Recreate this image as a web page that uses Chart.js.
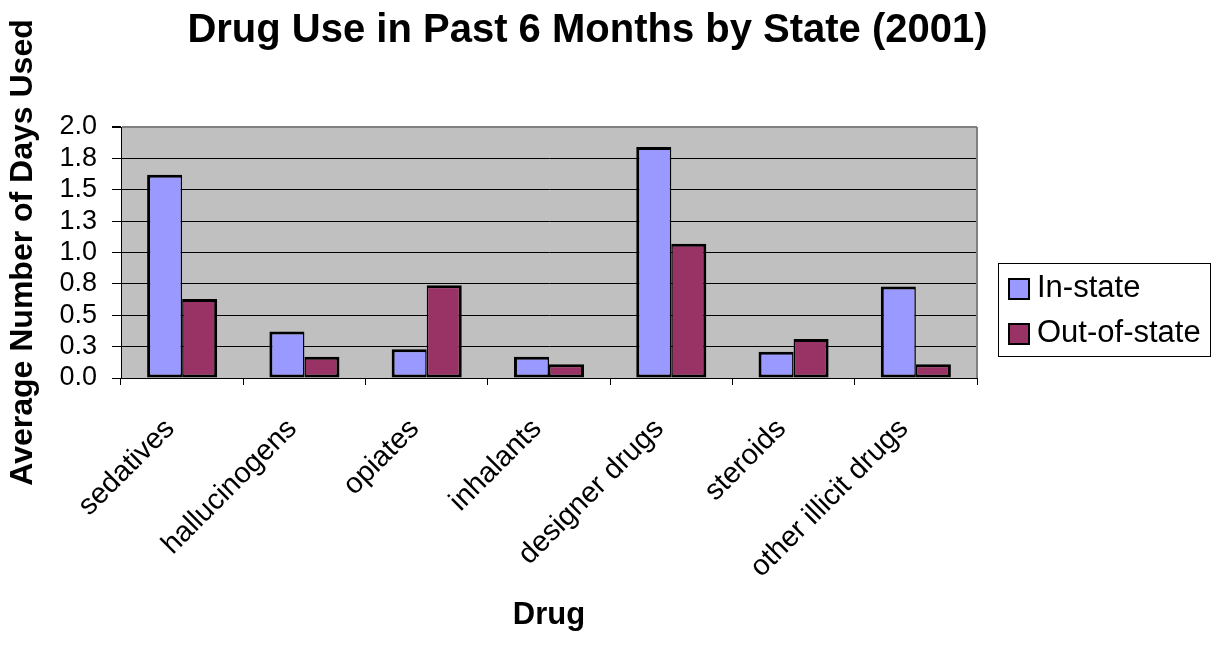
<!DOCTYPE html>
<html>
<head>
<meta charset="utf-8">
<script src="https://cdn.jsdelivr.net/npm/chart.js@4/dist/chart.umd.min.js"></script>
<style>
  html, body { margin: 0; padding: 0; background: #fff; }
  #wrap { width: 1217px; height: 645px; }
</style>
</head>
<body>
<div id="wrap"><canvas id="c" width="1217" height="645"></canvas></div>
<script>
// Survey results: average number of days each drug was used in the past 6 months
const categories = ['sedatives', 'hallucinogens', 'opiates', 'inhalants', 'designer drugs', 'steroids', 'other illicit drugs'];
const inState = [1.62, 0.37, 0.23, 0.17, 1.84, 0.21, 0.73];
const outOfState = [0.63, 0.17, 0.74, 0.11, 1.07, 0.31, 0.11];
const seriesNames = ['In-state', 'Out-of-state'];
const yTickLabels = ['0.0', '0.3', '0.5', '0.8', '1.0', '1.3', '1.5', '1.8', '2.0'];

const chartTitle = 'Drug Use in Past 6 Months by State (2001)';
const xTitle = 'Drug';
const yTitle = 'Average Number of Days Used';

const FONT = '"Liberation Sans", Arial, Helvetica, sans-serif';
const colors = ['#9999FF', '#993366'];

// Grey plot background and grey right-hand frame of the plot area
const plotFrame = {
  id: 'plotFrame',
  beforeDraw(chart) {
    const { ctx, chartArea: a } = chart;
    ctx.save();
    ctx.fillStyle = '#C0C0C0';
    ctx.fillRect(a.left, a.top, a.right - a.left, a.bottom - a.top);
    ctx.restore();
  },
  afterDatasetsDraw(chart) {
    const { ctx, chartArea: a } = chart;
    ctx.save();
    ctx.strokeStyle = '#808080';
    ctx.lineWidth = 2;
    ctx.beginPath();
    ctx.moveTo(Math.round(a.right), a.top);
    ctx.lineTo(Math.round(a.right), a.bottom);
    ctx.stroke();
    ctx.restore();
  }
};

// Chart heading and boxed legend on the right
const heading = {
  id: 'heading',
  afterDraw(chart) {
    const { ctx } = chart;
    ctx.save();
    ctx.fillStyle = '#000';
    ctx.font = 'bold 40px ' + FONT;
    ctx.textAlign = 'center';
    ctx.textBaseline = 'alphabetic';
    ctx.fillText(chartTitle, 587.5, 42);

    // legend box
    ctx.strokeStyle = '#000';
    ctx.lineWidth = 1;
    ctx.strokeRect(998.5, 263.5, 212, 93);
    ctx.font = '31px ' + FONT;
    ctx.textAlign = 'left';
    chart.data.datasets.forEach((ds, i) => {
      const y = 279 + i * 45;
      ctx.fillStyle = ds.backgroundColor;
      ctx.fillRect(1009, y, 20, 20);
      ctx.lineWidth = 2;
      ctx.strokeRect(1009, y, 20, 20);
      ctx.fillStyle = '#000';
      ctx.fillText(ds.label, 1037, y + 18);
    });
    ctx.restore();
  }
};

const barBorder = (side) => side === 0
  ? { top: 3, left: 3, bottom: 3, right: 1.5 }
  : { top: 3, left: 1.5, bottom: 3, right: 3 };

new Chart(document.getElementById('c'), {
  type: 'bar',
  data: {
    labels: categories,
    datasets: [
      { label: seriesNames[0], data: inState, backgroundColor: colors[0], borderColor: '#000', borderWidth: barBorder(0), borderSkipped: false },
      { label: seriesNames[1], data: outOfState, backgroundColor: colors[1], borderColor: '#000', borderWidth: barBorder(1), borderSkipped: false }
    ]
  },
  options: {
    responsive: false,
    animation: false,
    events: [],
    layout: { padding: { top: 127, right: 240, bottom: 0, left: 0 } },
    datasets: { bar: { categoryPercentage: 0.573, barPercentage: 1.0 } },
    plugins: { legend: { display: false }, title: { display: false }, tooltip: { enabled: false } },
    scales: {
      x: {
        afterFit(scale) { scale.height = 267; },
        grid: { display: true, drawOnChartArea: false, drawTicks: true, tickLength: 7, color: '#000', tickColor: '#000', offset: true },
        border: { display: true, color: '#000', width: 1 },
        ticks: {
          autoSkip: false, minRotation: 45, maxRotation: 45, padding: 27, labelOffset: -12,
          color: '#000', font: { family: FONT, size: 29 }
        },
        title: { display: true, text: xTitle, color: '#000', font: { family: FONT, size: 31, weight: 'bold' }, padding: { top: 0, bottom: 11 } }
      },
      y: {
        min: 0, max: 2,
        afterFit(scale) { scale.width = 121; },
        afterBuildTicks(scale) {
          scale.ticks = yTickLabels.map((_, i) => ({ value: i * 0.25 }));
        },
        grid: {
          color: (c) => (c.tick && c.tick.value === 2 ? '#808080' : '#000'),
          lineWidth: (c) => (c.tick && c.tick.value === 2 ? 2 : 1),
          tickColor: '#000', tickLength: 9, drawTicks: true
        },
        border: { display: true, color: '#000', width: 1 },
        ticks: {
          autoSkip: false, padding: 15, color: '#000', font: { family: FONT, size: 27 },
          callback: (v, i) => yTickLabels[i]
        },
        title: { display: true, text: yTitle, color: '#000', font: { family: FONT, size: 32, weight: 'bold' }, padding: { top: 4, bottom: 0 } }
      }
    }
  },
  plugins: [plotFrame, heading]
});
</script>
</body>
</html>
